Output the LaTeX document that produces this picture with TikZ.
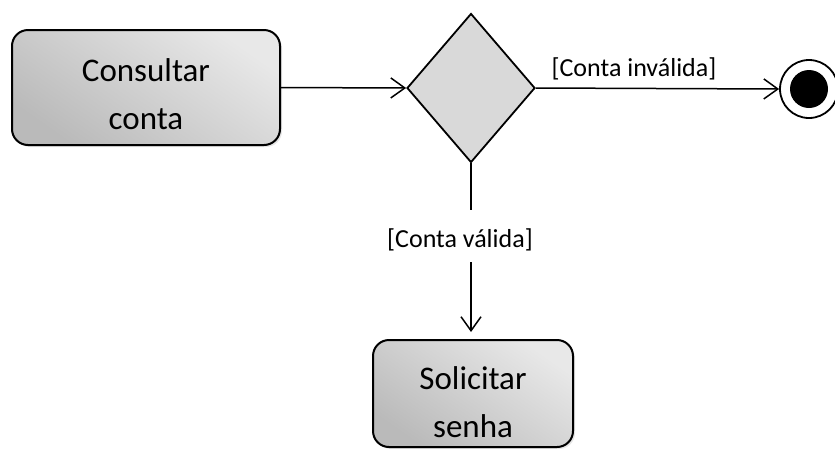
\documentclass[tikz,border=0pt]{standalone}
\usepackage{fontspec}
\setmainfont{Carlito}
\usetikzlibrary{shapes.geometric,arrows.meta,shadows}

\tikzset{
  activity/.style={draw, line width=2pt, rounded corners=16pt,
    top color=black!9, bottom color=black!27, shading angle=-35,
    drop shadow={shadow xshift=2pt, shadow yshift=-2pt, opacity=0.2},
    inner sep=0pt},
  acttext/.style={align=center, inner sep=0pt, font=\fontsize{33}{48}\selectfont},
  decision/.style={diamond, draw, fill=black!15, line width=1.8pt,
    minimum width=128pt, minimum height=149pt, inner sep=0pt},
  guard/.style={inner sep=0pt, font=\fontsize{26}{30}\selectfont},
  flow/.style={line width=1.5pt, ->},
  >={Straight Barb[length=14pt,width=20pt]}
}

\begin{document}
\begin{tikzpicture}[x=1pt,y=-1pt]
\useasboundingbox (0,0) rectangle (835,448);

%Nodes
\node[activity, minimum width=268pt, minimum height=115pt] (consultar) at (146,87.5) {};
\node[acttext] (consultartxt) at (146,94) {Consultar\\conta};
\node[decision] (dec) at (471,88) {};
\node[activity, minimum width=200pt, minimum height=107pt] (solicitar) at (473,393.5) {};
\node[acttext] (solicitartxt) at (473,402) {Solicitar\\senha};
\node[circle, draw, line width=1.8pt, minimum size=58pt, inner sep=0pt] (fim) at (809,89) {};
\node[circle, fill=black, minimum size=38pt, inner sep=0pt] (fimdot) at (fim) {};

%Guard labels
\node[guard] (invalida) at (634,69) {[Conta inválida]};
\node[guard] (valida) at (460,240) {[Conta válida]};

%Flows
\draw[flow] (consultar.east) -- (dec.west);
\draw[flow] (dec.east) -- (fim.west);
\coordinate (vtop) at (dec.south |- 0,210);
\coordinate (vbot) at (dec.south |- 0,262);
\draw[line width=1.5pt] (dec.south) -- (vtop);
\draw[flow, shorten >=7pt] (vbot) -- (dec.south |- solicitar.north);

\end{tikzpicture}
\end{document}
